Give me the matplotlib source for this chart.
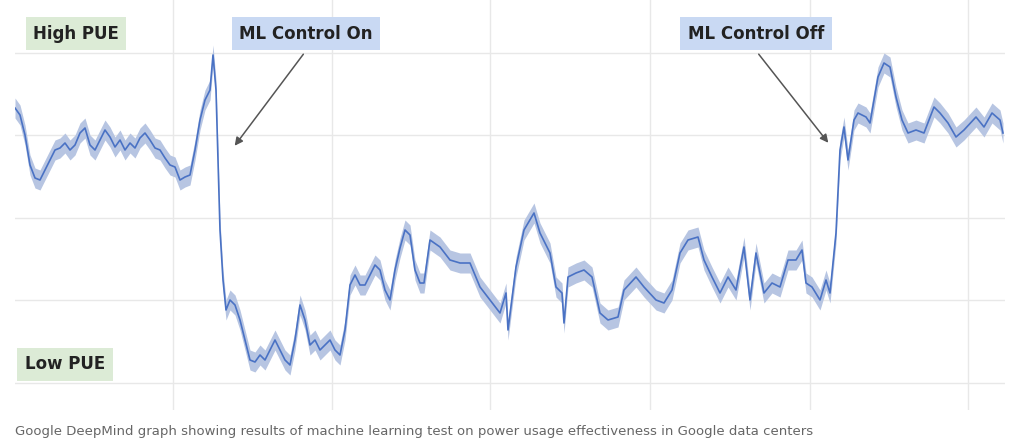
import matplotlib
matplotlib.use('Agg')

import numpy as np
import matplotlib.pyplot as plt

# Curva PUE (x = posición horizontal, y = nivel; mayor y = PUE más bajo)
x_pos = [15, 20, 25, 30, 35, 40, 45, 50, 55, 60, 65, 70, 75, 80, 85, 90, 95, 100, 105, 110,
         115, 120, 125, 130, 135, 140, 145, 150, 155, 160, 165, 170, 175, 180, 185, 190, 195,
         200, 205, 210, 213, 216, 220, 223, 226, 230, 235, 240, 245, 250, 255, 260, 265, 270,
         275, 280, 285, 290, 295, 300, 305, 310, 315, 320, 325, 330, 335, 340, 345, 350, 355,
         360, 365, 370, 375, 380, 385, 390, 395, 400, 405, 410, 415, 420, 424, 430, 440, 450,
         460, 470, 480, 490, 500, 506, 508, 516, 524, 534, 540, 550, 556, 562, 564, 568, 576,
         584, 592, 600, 608, 618, 624, 636, 644, 656, 664, 672, 680, 688, 698, 704, 712, 720,
         728, 736, 744, 750, 756, 764, 772, 780, 788, 796, 802, 806, 812, 820, 826, 830, 836,
         840, 844, 848, 854, 858, 866, 870, 878, 884, 890, 896, 902, 908, 916, 924, 934, 940,
         948, 956, 964, 976, 984, 992, 1000, 1003]
pue = [108, 115, 135, 165, 178, 180, 170, 160, 150, 148, 143, 150, 145, 133, 128, 145, 150, 140,
       130, 137, 147, 140, 150, 143, 148, 138, 133, 140, 148, 150, 158, 165, 167, 180, 177, 175,
       150, 120, 100, 90, 55, 90, 230, 280, 310, 300, 305, 320, 340, 360, 362, 355, 360, 350,
       340, 350, 360, 365, 340, 305, 320, 345, 340, 350, 345, 340, 350, 355, 330, 285, 275, 285,
       285, 275, 265, 270, 290, 300, 270, 248, 230, 235, 270, 283, 283, 240, 247, 260, 263, 263,
       287, 300, 313, 293, 330, 267, 230, 213, 233, 253, 287, 293, 323, 277, 273, 270, 277, 313,
       320, 317, 290, 277, 287, 300, 303, 290, 253, 240, 237, 260, 277, 293, 277, 290, 247, 300,
       253, 293, 283, 287, 260, 260, 250, 283, 287, 300, 280, 293, 233, 150, 127, 160, 120, 113,
       117, 123, 77, 63, 67, 97, 120, 133, 130, 133, 107, 113, 123, 137, 130, 117, 127, 113, 120,
       133]
banda = 10  # semiancho aproximado de la banda sombreada

pue = np.array(pue, dtype=float)

fig = plt.figure(figsize=(10.24, 4.44), dpi=100)
ax = fig.add_axes([15 / 1024, 34 / 444, 990 / 1024, 410 / 444])
ax.set_xlim(15, 1005)
ax.set_ylim(410, 0)

ax.fill_between(x_pos, pue - banda, pue + banda, color='#b7c5e2', lw=0)
ax.plot(x_pos, pue, color='#4a72c4', lw=1.2)

ax.set_xticks([173, 332, 490, 650, 810, 968])
ax.set_yticks([53, 135, 218, 300, 383])
ax.grid(True, color='#e8e8e8', lw=1)
ax.tick_params(length=0, labelbottom=False, labelleft=False)
for s in ax.spines.values():
    s.set_visible(False)
ax.set_axisbelow(True)

etiqueta = dict(fontsize=12, fontweight='bold', color='#222222', ha='center', va='center')
ax.text(76, 34, 'High PUE', bbox=dict(boxstyle='square,pad=0.45', fc='#dcebd6', ec='none'), **etiqueta)
ax.text(65, 364, 'Low PUE', bbox=dict(boxstyle='square,pad=0.45', fc='#dcebd6', ec='none'), **etiqueta)
ax.text(306, 34, 'ML Control On', bbox=dict(boxstyle='square,pad=0.45', fc='#c9d9f3', ec='none'), **etiqueta)
ax.text(756, 34, 'ML Control Off', bbox=dict(boxstyle='square,pad=0.45', fc='#c9d9f3', ec='none'), **etiqueta)

flecha = dict(arrowstyle='-|>', color='#555555', lw=1.1, mutation_scale=12)
ax.annotate('', xy=(233, 148), xytext=(305, 52), arrowprops=flecha)
ax.annotate('', xy=(830, 145), xytext=(757, 52), arrowprops=flecha)

fig.text(15 / 1024, 1 - 431 / 444,
         'Google DeepMind graph showing results of machine learning test on power usage effectiveness in Google data centers',
         fontsize=9.5, color='#666666', va='center')

fig.savefig('out.png', dpi=100)
